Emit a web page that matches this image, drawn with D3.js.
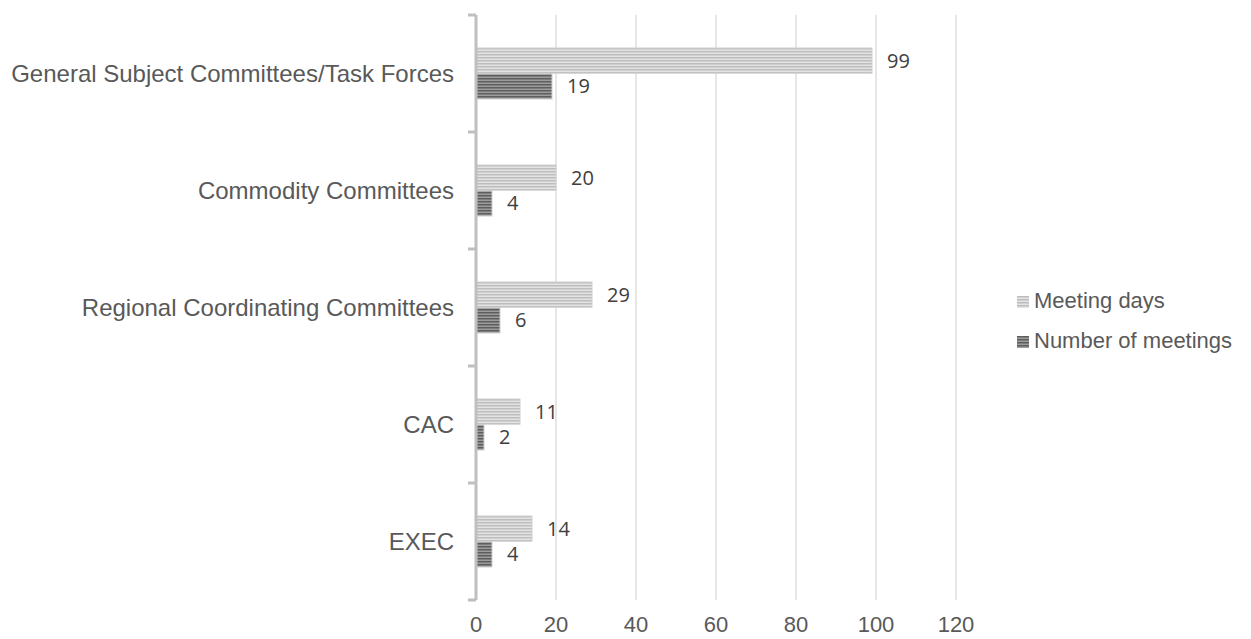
<!DOCTYPE html>
<html>
<head>
<meta charset="utf-8">
<script src="https://cdn.jsdelivr.net/npm/d3@7"></script>
<style>
  body { margin: 0; background: #fff; }
  svg { display: block; }
</style>
</head>
<body>
<svg id="chart" width="1251" height="639"></svg>
<script>
const categories = ["General Subject Committees/Task Forces", "Commodity Committees", "Regional Coordinating Committees", "CAC", "EXEC"];
const meetingDays = [99, 20, 29, 11, 14];
const numberOfMeetings = [19, 4, 6, 2, 4];
const xTicks = [0, 20, 40, 60, 80, 100, 120];
const seriesNames = ["Meeting days", "Number of meetings"];

const svg = d3.select("#chart");
const margin = { left: 476, top: 15, right: 295, bottom: 39 };
const width = 1251 - margin.left - margin.right;
const height = 639 - margin.top - margin.bottom;

// stripe patterns
const defs = svg.append("defs");
function stripes(id, c1, c2) {
  const p = defs.append("pattern")
    .attr("id", id)
    .attr("patternUnits", "userSpaceOnUse")
    .attr("width", 4)
    .attr("height", 3);
  p.append("rect").attr("width", 4).attr("height", 3).attr("fill", c2);
  p.append("rect").attr("width", 4).attr("height", 1.5).attr("fill", c1);
}
stripes("light", "#bdbdbd", "#e3e3e3");
stripes("dark", "#5e5e5e", "#9c9c9c");
const fills = ["url(#light)", "url(#dark)"];

const g = svg.append("g").attr("transform", `translate(${margin.left},${margin.top})`);

const x = d3.scaleLinear().domain([0, 120]).range([0, width]);
const y = d3.scaleBand().domain(categories).range([0, height]);
const inner = d3.scaleBand().domain(seriesNames).range([33, y.bandwidth() - 33]).paddingInner(0.02);

// gridlines
g.selectAll(".grid").data(xTicks.slice(1)).join("line")
  .attr("x1", d => x(d)).attr("x2", d => x(d))
  .attr("y1", 0).attr("y2", height)
  .attr("stroke", "#d9d9d9").attr("stroke-width", 1.3);

// x tick labels
g.selectAll(".xlab").data(xTicks).join("text")
  .attr("x", d => x(d)).attr("y", height + 32)
  .attr("text-anchor", "middle")
  .attr("font-family", "Liberation Sans, Arial, sans-serif")
  .attr("font-size", 22).attr("fill", "#595959")
  .text(d => d);

// bars
const series = [meetingDays, numberOfMeetings];
series.forEach((vals, si) => {
  const rows = categories.map((c, i) => ({ c, v: vals[i] }));
  g.selectAll(".bar" + si).data(rows).join("rect")
    .attr("x", 0)
    .attr("y", d => y(d.c) + inner(seriesNames[si]))
    .attr("width", d => x(d.v))
    .attr("height", inner.bandwidth())
    .attr("fill", fills[si])
    .attr("stroke", "#d0d0d0").attr("stroke-width", 1);
  g.selectAll(".val" + si).data(rows).join("text")
    .attr("x", d => x(d.v) + 15)
    .attr("y", d => y(d.c) + inner(seriesNames[si]) + inner.bandwidth() / 2 + 7)
    .attr("font-family", "Open Sans, sans-serif")
    .attr("font-size", 20).attr("fill", "#404040")
    .text(d => d.v);
});

// y axis
const axisColor = "#bfbfbf";
g.append("line").attr("x1", 0).attr("x2", 0).attr("y1", 0).attr("y2", height)
  .attr("stroke", axisColor).attr("stroke-width", 3);
const bounds = categories.map(c => y(c)).concat([height]);
g.selectAll(".ytick").data(bounds).join("line")
  .attr("x1", -8).attr("x2", 0)
  .attr("y1", d => d).attr("y2", d => d)
  .attr("stroke", axisColor).attr("stroke-width", 3);

g.selectAll(".ylab").data(categories).join("text")
  .attr("x", -22)
  .attr("y", d => y(d) + y.bandwidth() / 2 + 8)
  .attr("text-anchor", "end")
  .attr("font-family", "Liberation Sans, Arial, sans-serif")
  .attr("font-size", 24).attr("fill", "#595959")
  .text(d => d);

// legend
const legend = svg.append("g").attr("transform", "translate(1017,308)");
seriesNames.forEach((name, i) => {
  const row = legend.append("g").attr("transform", `translate(0,${i * 40})`);
  row.append("rect").attr("x", 0).attr("y", -12).attr("width", 12).attr("height", 12)
    .attr("fill", fills[i]);
  row.append("text").attr("x", 17).attr("y", 0)
    .attr("font-family", "Liberation Sans, Arial, sans-serif")
    .attr("font-size", 22).attr("fill", "#595959")
    .text(name);
});
</script>
</body>
</html>
